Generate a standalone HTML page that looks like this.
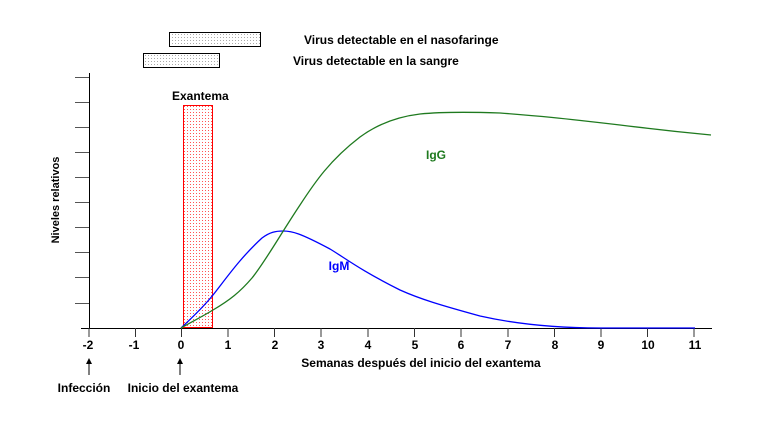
<!DOCTYPE html>
<html><head><meta charset="utf-8"><style>
html,body{margin:0;padding:0;background:#fff;}
svg text{font-family:"Liberation Sans",Arial,sans-serif;font-weight:bold;}
</style></head><body>
<svg width="777" height="427" viewBox="0 0 777 427" xmlns="http://www.w3.org/2000/svg">
<defs>
<pattern id="gd" width="3" height="3" patternUnits="userSpaceOnUse"><rect x="1" y="1" width="1" height="1" fill="#aaa"/></pattern>
<pattern id="rd" width="3" height="3" patternUnits="userSpaceOnUse"><rect x="1" y="1" width="1" height="1" fill="#f55"/></pattern>
</defs>
<rect x="169.5" y="32.5" width="91" height="14" fill="url(#gd)" stroke="#000"/>
<rect x="143.5" y="53.5" width="76" height="14" fill="url(#gd)" stroke="#000"/>
<text x="304" y="44" font-size="12">Virus detectable en el nasofaringe</text>
<text x="293" y="65" font-size="12">Virus detectable en la sangre</text>
<text x="172" y="100" font-size="12">Exantema</text>
<rect x="183.5" y="105.5" width="29" height="222" fill="url(#rd)" stroke="#f00"/>
<g stroke="#000" stroke-width="1">
<line x1="89.5" y1="73" x2="89.5" y2="328"/>
<line x1="81" y1="328.5" x2="712" y2="328.5"/>
<g stroke="#555"><line x1="75" y1="77.5" x2="89" y2="77.5"/><line x1="75" y1="102.5" x2="89" y2="102.5"/><line x1="75" y1="127.5" x2="89" y2="127.5"/><line x1="75" y1="152.5" x2="89" y2="152.5"/><line x1="75" y1="177.5" x2="89" y2="177.5"/><line x1="75" y1="202.5" x2="89" y2="202.5"/><line x1="75" y1="227.5" x2="89" y2="227.5"/><line x1="75" y1="252.5" x2="89" y2="252.5"/><line x1="75" y1="277.5" x2="89" y2="277.5"/><line x1="75" y1="303.5" x2="89" y2="303.5"/></g>
<g stroke="#333">
<line x1="89" y1="328" x2="89" y2="337"/><line x1="135.5" y1="328" x2="135.5" y2="337"/><line x1="181.5" y1="328" x2="181.5" y2="337"/><line x1="228" y1="328" x2="228" y2="337"/><line x1="274.5" y1="328" x2="274.5" y2="337"/><line x1="321" y1="328" x2="321" y2="337"/><line x1="368" y1="328" x2="368" y2="337"/><line x1="414.5" y1="328" x2="414.5" y2="337"/><line x1="461" y1="328" x2="461" y2="337"/><line x1="508" y1="328" x2="508" y2="337"/><line x1="554.5" y1="328" x2="554.5" y2="337"/><line x1="601" y1="328" x2="601" y2="337"/><line x1="647.5" y1="328" x2="647.5" y2="337"/><line x1="694" y1="328" x2="694" y2="337"/></g>
</g>
<g font-size="12" text-anchor="middle">
<text x="88" y="349">-2</text><text x="134" y="349">-1</text><text x="181" y="349">0</text><text x="228" y="349">1</text><text x="275" y="349">2</text><text x="321" y="349">3</text><text x="368" y="349">4</text><text x="415" y="349">5</text><text x="461" y="349">6</text><text x="508" y="349">7</text><text x="555" y="349">8</text><text x="601" y="349">9</text><text x="648" y="349">10</text><text x="695" y="349">11</text>
</g>
<text x="421" y="367" font-size="12" text-anchor="middle">Semanas después del inicio del exantema</text>
<text x="84" y="392" font-size="12" text-anchor="middle">Infección</text>
<text x="183" y="392" font-size="12" text-anchor="middle">Inicio del exantema</text>
<g stroke="#000"><line x1="89" y1="362" x2="89" y2="375"/><line x1="180" y1="362" x2="180" y2="375"/></g>
<path d="M86,364 L89,358 L92,364Z M177,364 L180,358 L183,364Z" fill="#000"/>
<text transform="translate(59,200) rotate(-90)" font-size="11" text-anchor="middle">Niveles relativos</text>
<path d="M181,328 C195,315 205,305 213,295 C225,280 240,258 262,238 C270,232 276,231 283,231 C292,231 300,233 330,249 C345,258 360,270 400,290 C420,299 440,305 480,316 C520,325 560,328 600,328 L695,328" fill="none" stroke="#00f" stroke-width="1.3"/>
<path d="M181,328 C195,320 205,315 213,310 C230,300 240,292 252,278 C265,262 280,235 300,205 C315,182 330,160 360,137 C375,126 395,117 420,114 C440,112 470,112 500,113 C540,116 560,118 620,125 C660,130 690,133 711,135" fill="none" stroke="#1f7a1f" stroke-width="1.3"/>
<text x="436" y="159" font-size="12" fill="#1f7a1f" text-anchor="middle">IgG</text>
<text x="339" y="270" font-size="12" fill="#00f" text-anchor="middle">IgM</text>
</svg>
</body></html>
